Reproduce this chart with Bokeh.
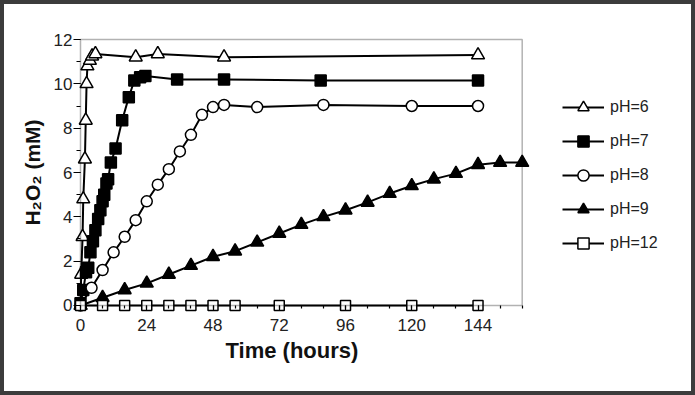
from bokeh.plotting import figure
from bokeh.models import (Range1d, SingleIntervalTicker, Legend, LegendItem,
                          BoxAnnotation, Title)
from bokeh.embed import file_html
from bokeh.resources import INLINE

# ---- data (hours, mM H2O2) ----
t_ph6 = [0, 0.25, 0.75, 1, 1.6, 1.9, 2.2, 2.5, 3.4, 4.2, 5.4, 20, 28, 52, 144]
v_ph6 = [0, 1.4, 3.1, 4.8, 6.6, 8.35, 10.0, 10.8, 11.05, 11.25, 11.35, 11.2, 11.35, 11.2, 11.3]

t_ph7 = [0, 1, 2, 2.8, 3.6, 4.5, 5.4, 6.4, 7.2, 8.0, 8.6, 9.4, 10.0, 11.0, 12.7, 15.1,
         17.5, 19.5, 21.6, 23.5, 35, 52, 87, 144]
v_ph7 = [0.1, 0.7, 1.5, 1.7, 2.4, 2.9, 3.4, 3.9, 4.3, 4.7, 5.0, 5.5, 5.7, 6.45, 7.08, 8.36,
         9.4, 10.15, 10.3, 10.35, 10.2, 10.2, 10.15, 10.15]

t_ph8 = [0, 4, 8, 12, 16, 20, 24, 28, 32, 36, 40, 44, 48, 52, 64, 88, 120, 144]
v_ph8 = [0, 0.8, 1.6, 2.4, 3.1, 3.85, 4.7, 5.45, 6.15, 6.95, 7.7, 8.6, 8.95, 9.05,
         8.95, 9.05, 9.0, 9.0]

t_ph9 = [0, 8, 16, 24, 32, 40, 48, 56, 64, 72, 80, 88, 96, 104, 112, 120, 128, 136,
         144, 152, 160]
v_ph9 = [0, 0.35, 0.7, 1.0, 1.4, 1.8, 2.2, 2.45, 2.85, 3.25, 3.65, 4.0, 4.3, 4.65,
         5.05, 5.4, 5.7, 5.95, 6.35, 6.45, 6.45]

t_ph12 = [0, 8, 16, 24, 32, 40, 48, 56, 72, 96, 120, 144]
v_ph12 = [0, 0, 0, 0, 0, 0, 0, 0, 0, 0, 0, 0]

labels = ["pH=6", "pH=7", "pH=8", "pH=9", "pH=12"]

X_MIN, X_MAX = 0, 160
Y_MIN, Y_MAX = 0, 12
XPAD, YPAD = 2.5357, 0.3158   # 7px of room so edge markers are not cut
X_VIEW_END = 220.24           # frame continues right to hold the legend

FONT = "Liberation Sans"

p = figure(width=687, height=387, output_backend="svg", toolbar_location=None,
           x_range=Range1d(X_MIN - XPAD, X_VIEW_END),
           y_range=Range1d(Y_MIN - YPAD, Y_MAX + YPAD),
           min_border_left=69, min_border_right=3, min_border_top=28,
           min_border_bottom=79)
p.styles = {"transform": "translate(4px, 4px)", "outline": "4px solid #3c3c3c"}
p.background_fill_color = "white"
p.border_fill_color = "white"
p.outline_line_color = None
p.grid.visible = False

# plot box: axis lines at 0 plus top/right edges
p.add_layout(BoxAnnotation(left=X_MIN, right=X_MAX, bottom=Y_MIN, top=Y_MAX,
                           fill_alpha=0, line_color="black", line_width=1.5))

p.xaxis.ticker = SingleIntervalTicker(interval=24, num_minor_ticks=3)
p.yaxis.ticker = SingleIntervalTicker(interval=2, num_minor_ticks=2)
p.xaxis.bounds = (X_MIN, X_MAX)
p.yaxis.bounds = (Y_MIN, Y_MAX)

for ax in (p.xaxis[0], p.yaxis[0]):
    ax.axis_line_color = None
    ax.major_tick_line_color = "black"
    ax.minor_tick_line_color = "black"
    ax.major_tick_line_width = 1.2
    ax.minor_tick_line_width = 1.2
    ax.major_label_text_font = FONT
    ax.major_label_text_font_size = "17px"
    ax.major_label_text_color = "#222222"
    ax.axis_label_text_font = FONT
    ax.axis_label_text_font_style = "bold"
    ax.axis_label_text_font_size = "21px"
    ax.axis_label_text_color = "#111111"

# ticks start 7px inside the frame edge (at the 0 lines) and point outward
p.yaxis.major_tick_in = 7
p.yaxis.major_tick_out = 0
p.yaxis.minor_tick_in = 7
p.yaxis.minor_tick_out = -3
p.xaxis.major_tick_in = 7
p.xaxis.major_tick_out = -2
p.xaxis.minor_tick_in = 7
p.xaxis.minor_tick_out = -4

p.yaxis.major_label_standoff = 1
p.xaxis.major_label_standoff = 8
p.yaxis.axis_label = "H\u2082O\u2082 (mM)"
p.yaxis.axis_label_standoff = 7

p.add_layout(Title(text="Time (hours)", align="left", offset=152,
                   text_font=FONT, text_font_style="bold", text_font_size="22px",
                   text_color="#111111", standoff=5), "below")

items = []
series = [
    (t_ph6, v_ph6, "triangle", "white", 13),
    (t_ph7, v_ph7, "square", "black", 11),
    (t_ph8, v_ph8, "circle", "white", 11),
    (t_ph9, v_ph9, "triangle", "black", 13),
    (t_ph12, v_ph12, "square", "white", 10),
]
for (t, v, mk, fill, sz), lab in zip(series, labels):
    ln = p.line(t, v, line_color="black", line_width=2)
    sc = p.scatter(t, v, marker=mk, size=sz, fill_color=fill, line_color="black",
                   line_width=1.5)
    items.append(LegendItem(label=lab, renderers=[ln, sc]))

legend = Legend(items=items, location=(489, 55), orientation="vertical",
                glyph_width=42, glyph_height=28, label_height=28, spacing=6,
                label_standoff=6, padding=0, margin=0,
                border_line_color=None, background_fill_alpha=0,
                label_text_font=FONT, label_text_font_size="16px",
                label_text_color="#222222")
p.add_layout(legend, "center")

open("out.html", "w").write(file_html(p, INLINE))
